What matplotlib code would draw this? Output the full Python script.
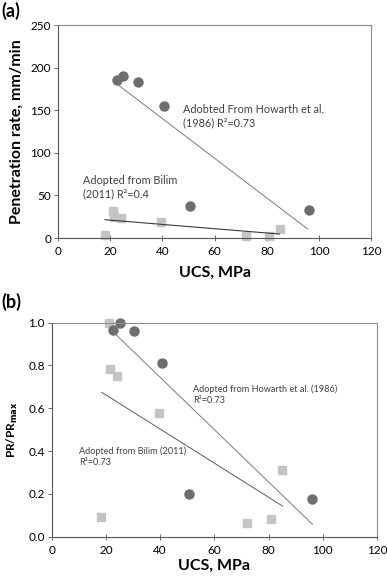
import matplotlib.pyplot as plt

# Howarth et al. (1986) data - circles
how_ucs = [22.5, 25, 30.5, 40.5, 50.5, 96]
how_pr = [185, 190, 183, 155, 38, 33]
how_norm = [0.965, 1.0, 0.96, 0.81, 0.2, 0.175]

# Bilim (2011) data - squares
bil_ucs = [18, 21, 21.5, 24, 39.5, 72, 81, 85]
bil_pr = [3, 32, 25, 24, 18.5, 2, 2.5, 10]
bil_norm = [0.09, 1.0, 0.785, 0.75, 0.58, 0.065, 0.083, 0.31]

# trend lines as drawn in the original (endpoints)
how_line_a = ([22.5, 95.7], [181, 10.5])
bil_line_a = ([18, 84.8], [21.5, 4.7])
how_line_b = ([22.9, 96.2], [0.953, 0.058])
bil_line_b = ([18.5, 85.2], [0.674, 0.143])

xticks = [0, 20, 40, 60, 80, 100, 120]

plt.rcParams['font.family'] = ['Lato', 'DejaVu Sans']

fig = plt.figure(figsize=(3.87, 5.77), dpi=100)
ax1 = fig.add_axes([0.150, 0.5875, 0.809, 0.369])
ax2 = fig.add_axes([0.134, 0.0698, 0.840, 0.371])

dark = '#6e6e6e'
light = '#c4c4c4'
spine_col = '#8c8c8c'

def style(ax):
    for s in ax.spines.values():
        s.set_color(spine_col)
        s.set_linewidth(0.8)
    ax.spines['left'].set_color('#555555')
    ax.spines['bottom'].set_color('#555555')
    ax.tick_params(labelsize=8.5, length=3, width=0.6, color='#555555', pad=2)
    ax.tick_params(axis='x', direction='inout', length=4, pad=4)
    ax.set_xlim(0, 120)
    ax.set_xticks(xticks)
    ax.set_xlabel('UCS, MPa', fontsize=11.5, fontweight='bold', labelpad=2)

# panel (a)
ax1.plot(bil_ucs, bil_pr, 's', color=light, markersize=6, zorder=2, clip_on=False)
ax1.plot(how_ucs, how_pr, 'o', color=dark, markersize=6.5, zorder=2, clip_on=False)
ax1.plot(*how_line_a, color='#7a7a7a', lw=0.7, zorder=3)
ax1.plot(*bil_line_a, color='#3a3a3a', lw=0.8, zorder=3)
ax1.set_ylim(0, 250)
ax1.set_yticks([0, 50, 100, 150, 200, 250])
style(ax1)
ax1.xaxis.labelpad = 6
ax1.set_ylabel('Penetration rate, mm/min', fontsize=11.5, fontweight='bold', labelpad=5)
ax1.text(47.7, 157, 'Adobted From Howarth et al.\n(1986) R\u00b2=0.73', fontsize=7.8,
         color='#404040', va='top', ha='left', linespacing=1.25)
ax1.text(9.6, 74, 'Adopted from Bilim\n(2011) R\u00b2=0.4', fontsize=7.8,
         color='#404040', va='top', ha='left', linespacing=1.25)
fig.text(0.003, 0.997, '(a)', fontsize=13, fontweight='bold', va='top', ha='left')

# panel (b)
ax2.plot(bil_ucs, bil_norm, 's', color=light, markersize=6, zorder=2, clip_on=False)
ax2.plot(how_ucs, how_norm, 'o', color=dark, markersize=6.5, zorder=2, clip_on=False)
ax2.plot(*how_line_b, color='#7a7a7a', lw=0.7, zorder=3)
ax2.plot(*bil_line_b, color='#5a5a5a', lw=0.7, zorder=3)
ax2.set_ylim(0, 1.0)
ax2.set_yticks([0.0, 0.2, 0.4, 0.6, 0.8, 1.0])
ax2.set_yticklabels(['0.0', '0.2', '0.4', '0.6', '0.8', '1.0'])
style(ax2)
ax2.set_ylabel('PR/PR$_{\\mathbf{max}}$', fontsize=8.5, fontweight='bold', labelpad=6)
ax2.text(52.2, 0.713, 'Adopted from Howarth et al. (1986)\nR\u00b2=0.73', fontsize=6.6,
         color='#404040', va='top', ha='left', linespacing=1.3)
ax2.text(9.9, 0.424, 'Adopted from Bilim (2011)\nR\u00b2=0.73', fontsize=6.6,
         color='#404040', va='top', ha='left', linespacing=1.3)
fig.text(0.003, 0.493, '(b)', fontsize=13, fontweight='bold', va='top', ha='left')

fig.savefig('out.png', dpi=100)
